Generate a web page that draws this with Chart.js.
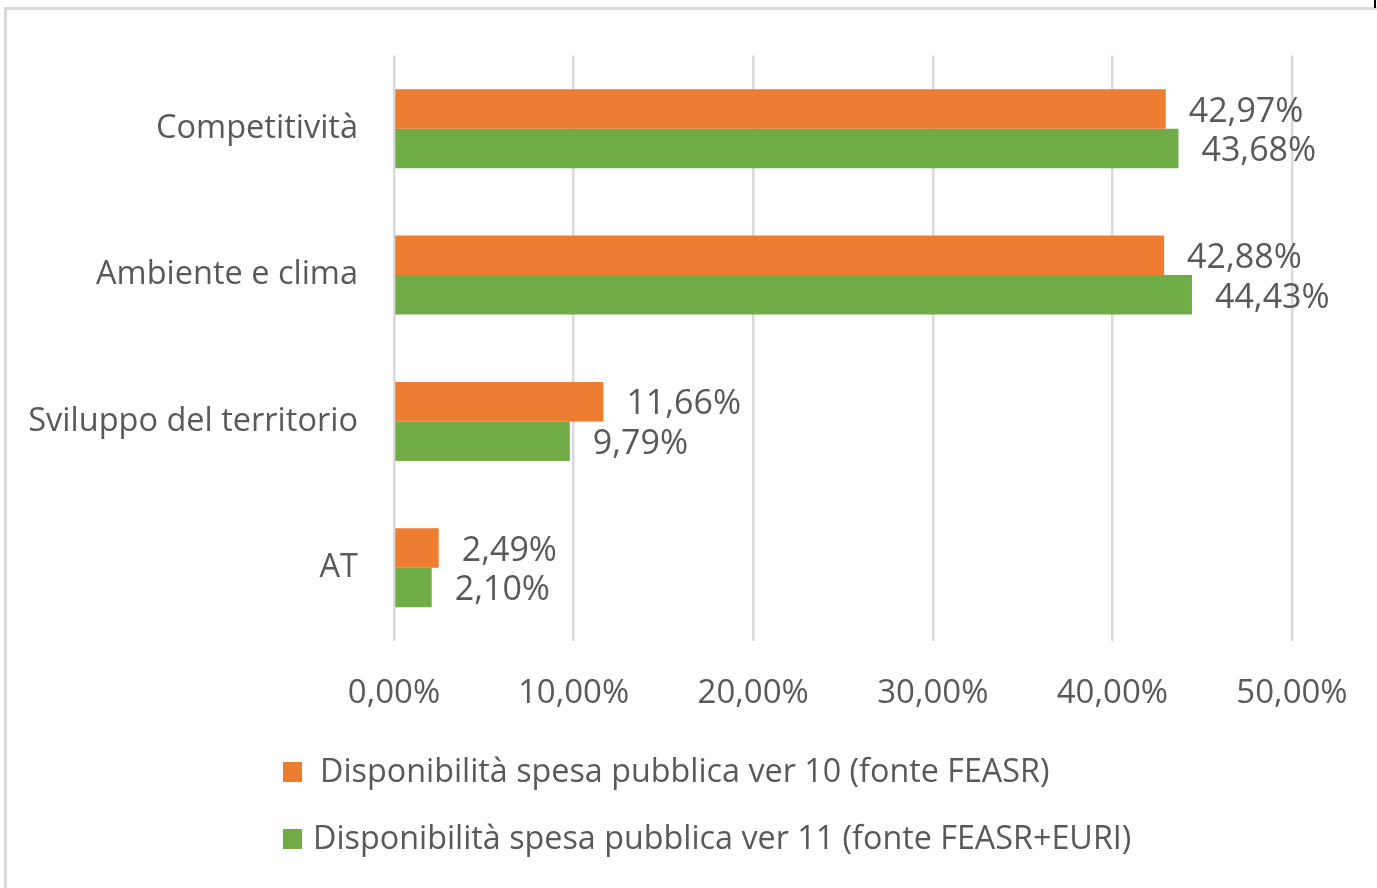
<!DOCTYPE html>
<html>
<head>
<meta charset="utf-8">
<script src="https://cdn.jsdelivr.net/npm/chart.js@4"></script>
<style>
  html, body { margin: 0; padding: 0; background: #fff; overflow: hidden; }
  #wrap { position: absolute; left: 0; top: 0; width: 1377px; height: 888px; }
  #frame { position: absolute; left: 4px; top: 7px; width: 1400px; height: 900px; border: 3px solid #d9d9d9; box-sizing: border-box; }
  #corner { position: absolute; left: 1374px; top: 0; width: 2px; height: 8px; background: #000; }
</style>
</head>
<body>
<div id="wrap">
  <div id="frame"></div>
  <div id="corner"></div>
  <canvas id="chart" width="1377" height="888"></canvas>
</div>
<script>
const categories = ['Competitività', 'Ambiente e clima', 'Sviluppo del territorio', 'AT'];
const ver10 = [42.97, 42.88, 11.66, 2.49];
const ver11 = [43.68, 44.43, 9.79, 2.10];
const seriesNames = [
  'Disponibilità spesa pubblica ver 10 (fonte FEASR)',
  'Disponibilità spesa pubblica ver 11 (fonte FEASR+EURI)'
];

const FONT = "'Open Sans', sans-serif";
const TEXT = '#595959';

const pct = v => v.toFixed(2).replace('.', ',') + '%';

// value labels to the right of each bar
const barLabels = {
  id: 'barLabels',
  afterDatasetsDraw(chart) {
    const ctx = chart.ctx;
    ctx.save();
    ctx.font = '34px ' + FONT;
    ctx.fillStyle = TEXT;
    ctx.textAlign = 'left';
    ctx.textBaseline = 'middle';
    chart.data.datasets.forEach((ds, i) => {
      chart.getDatasetMeta(i).data.forEach((bar, j) => {
        ctx.fillText(pct(ds.data[j]), bar.x + 23, bar.y + 3);
      });
    });
    ctx.restore();
  }
};

// stacked legend under the axis
const stackLegend = {
  id: 'stackLegend',
  afterDraw(chart) {
    const ctx = chart.ctx;
    const top = chart.chartArea.bottom + 131;
    ctx.save();
    ctx.font = '32.3px ' + FONT;
    ctx.textBaseline = 'middle';
    chart.data.datasets.forEach((ds, i) => {
      const y = top + i * 67;
      ctx.fillStyle = ds.backgroundColor;
      ctx.fillRect(283, y - 10, 19, 20);
      ctx.fillStyle = TEXT;
      ctx.fillText(ds.label, i === 0 ? 320 : 313, y + 1);
    });
    ctx.restore();
  }
};

new Chart(document.getElementById('chart'), {
  type: 'bar',
  data: {
    labels: categories,
    datasets: [
      { label: seriesNames[0], data: ver10, backgroundColor: '#ED7D31' },
      { label: seriesNames[1], data: ver11, backgroundColor: '#70AD47' }
    ]
  },
  options: {
    indexAxis: 'y',
    responsive: false,
    animation: false,
    barPercentage: 1,
    categoryPercentage: 0.54,
    layout: { padding: { left: 0, right: 85, top: 54, bottom: 147 } },
    scales: {
      x: {
        min: 0,
        max: 50,
        ticks: {
          stepSize: 10,
          padding: 33,
          color: TEXT,
          font: { family: FONT, size: 33 },
          callback: v => pct(v)
        },
        grid: { color: '#dadada', lineWidth: 2.5, drawTicks: false },
        border: { display: false },
        afterFit: s => {
          s.height = 100;
          s.paddingLeft = 0;
          s.paddingRight = 0;
        }
      },
      y: {
        ticks: {
          padding: 36,
          color: TEXT,
          font: { family: FONT, size: 32.5 }
        },
        grid: { display: false, drawTicks: false },
        border: { display: false },
        afterFit: s => { s.width = 394; }
      }
    },
    plugins: {
      legend: { display: false },
      tooltip: { enabled: false }
    }
  },
  plugins: [barLabels, stackLegend]
});
</script>
</body>
</html>
